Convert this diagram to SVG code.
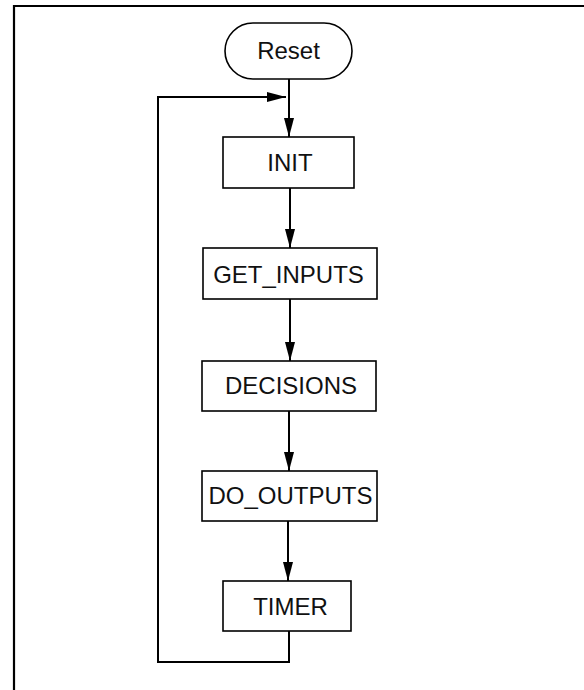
<svg xmlns="http://www.w3.org/2000/svg" width="584" height="690" viewBox="0 0 584 690">
  <style>
    .node { fill: #ffffff; stroke: #000000; stroke-width: 1.6; }
    .label { font-family: "Liberation Sans", Arial, sans-serif; font-size: 24px; fill: #111111; text-anchor: middle; }
    .edge { fill: none; stroke: #000000; stroke-width: 2; }
    .frame { fill: none; stroke: #000000; stroke-width: 2.2; }
  </style>
  <defs>
    <marker id="arrow" markerUnits="userSpaceOnUse" markerWidth="20" markerHeight="11" refX="19" refY="5" orient="auto">
      <path d="M0,0 L19,5 L0,10 z" fill="#000000"/>
    </marker>
  </defs>
  <rect x="0" y="0" width="584" height="690" fill="#ffffff"/>
  <path class="frame" d="M14,690 L14,6 L584,6"/>

  <g id="connectors">
    <line class="edge" x1="289" y1="79" x2="289" y2="137" marker-end="url(#arrow)"/>
    <line class="edge" x1="290" y1="188" x2="290" y2="248" marker-end="url(#arrow)"/>
    <line class="edge" x1="290" y1="299" x2="290" y2="361" marker-end="url(#arrow)"/>
    <line class="edge" x1="289" y1="411" x2="289" y2="471" marker-end="url(#arrow)"/>
    <line class="edge" x1="288" y1="521" x2="288" y2="581" marker-end="url(#arrow)"/>
    <path class="edge" d="M289,631 L289,662 L158,662 L158,97 L286,97" marker-end="url(#arrow)"/>
  </g>

  <g id="reset">
    <rect class="node" x="225" y="23" width="127" height="56" rx="28" ry="28"/>
    <text class="label" x="288.5" y="59">Reset</text>
  </g>
  <g id="init">
    <rect class="node" x="223" y="137" width="131" height="51"/>
    <text class="label" x="290" y="171">INIT</text>
  </g>
  <g id="get_inputs">
    <rect class="node" x="203" y="248" width="174" height="51"/>
    <text class="label" x="288.5" y="283">GET_INPUTS</text>
  </g>
  <g id="decisions">
    <rect class="node" x="202" y="361" width="174" height="50"/>
    <text class="label" x="291" y="394">DECISIONS</text>
  </g>
  <g id="do_outputs">
    <rect class="node" x="202" y="471" width="175" height="50"/>
    <text class="label" x="290.5" y="503.5">DO_OUTPUTS</text>
  </g>
  <g id="timer">
    <rect class="node" x="223" y="581" width="128" height="50"/>
    <text class="label" x="290.5" y="615">TIMER</text>
  </g>
</svg>
